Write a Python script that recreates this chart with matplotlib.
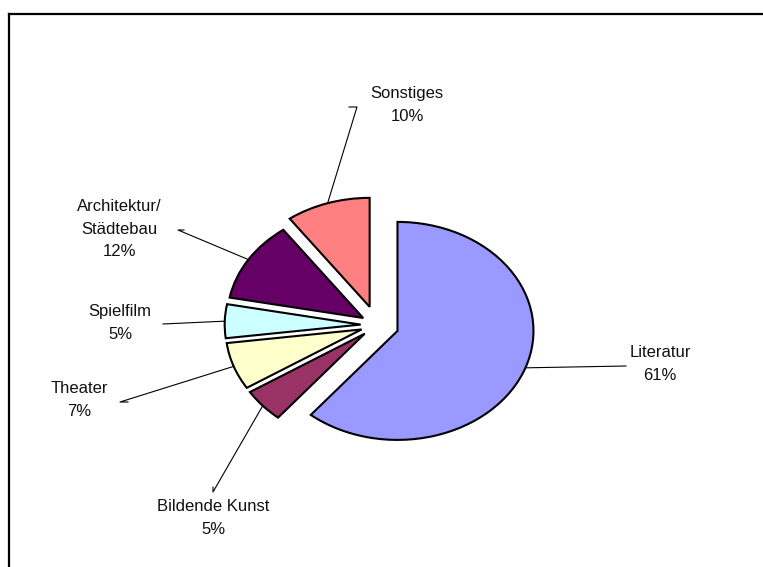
import numpy as np
import matplotlib
matplotlib.use('Agg')
import matplotlib.pyplot as plt
from matplotlib.lines import Line2D

plt.rcParams['font.family'] = ['Liberation Sans', 'DejaVu Sans']

# data
categories = ['Literatur', 'Bildende Kunst', 'Theater', 'Spielfilm',
              'Architektur/\nStädtebau', 'Sonstiges']
shares = [61, 5, 7, 5, 12, 10]
colors = ['#9999FF', '#993366', '#FFFFCC', '#CCFFFF', '#660066', '#FF8080']
explode = [0.16, 0.12, 0.12, 0.12, 0.12, 0.175]

# layout (pixels in the 763x567 image)
W, H = 763, 567
cx, cy = 377, 325      # pie centre
rx, ry = 136, 109      # radius in x / y

def px(x, y):
    return (x - cx) / rx, (cy - y) / ry

# label centre and leader line path (from label towards slice), in pixels
label_pos = [(660, 364), (213, 518), (79, 400), (120, 323), (119, 229), (407, 105)]
leader_end = [
    [(626, 366)],
    [(213, 492), (213, 487)],
    [(120, 402), (128, 402)],
    [(163, 324)],
    [(178, 230), (184, 230)],
    [(357, 107), (349, 107)],
]

fig = plt.figure(figsize=(W / 100, H / 100), dpi=100)
ax = fig.add_axes([0, 0, 1, 1])

wedges, _ = ax.pie(shares, colors=colors, explode=explode, startangle=90,
                   counterclock=False, radius=1.0,
                   wedgeprops=dict(edgecolor='black', linewidth=1.5))
ax.set_aspect('auto')
ax.set_xlim(-cx / rx, (W - cx) / rx)
ax.set_ylim((cy - H) / ry, cy / ry)
ax.axis('off')

total = sum(shares)
start = 90.0
for i, (name, val) in enumerate(zip(categories, shares)):
    ang = val / total * 360
    mid = np.deg2rad(start - ang / 2)
    start -= ang
    ox = explode[i] * np.cos(mid)
    oy = explode[i] * np.sin(mid)
    anchor = (ox + np.cos(mid), oy + np.sin(mid))
    pts = [px(*p) for p in leader_end[i]][::-1] + [anchor]
    xs = [p[0] for p in pts]
    ys = [p[1] for p in pts]
    ax.plot(xs, ys, color='black', lw=0.8)
    tx, ty = px(*label_pos[i])
    ax.text(tx, ty, f'{name}\n{val}%', ha='center', va='center',
            fontsize=12, linespacing=1.6, color='#111111')

# chart border (top and left visible)
fig.add_artist(Line2D([8.5 / W, 1.0], [1 - 14 / H, 1 - 14 / H],
                      transform=fig.transFigure, color='black', lw=1.6))
fig.add_artist(Line2D([8.5 / W, 8.5 / W], [0, 1 - 14 / H],
                      transform=fig.transFigure, color='black', lw=1.6))

fig.savefig('out.png', dpi=100)
